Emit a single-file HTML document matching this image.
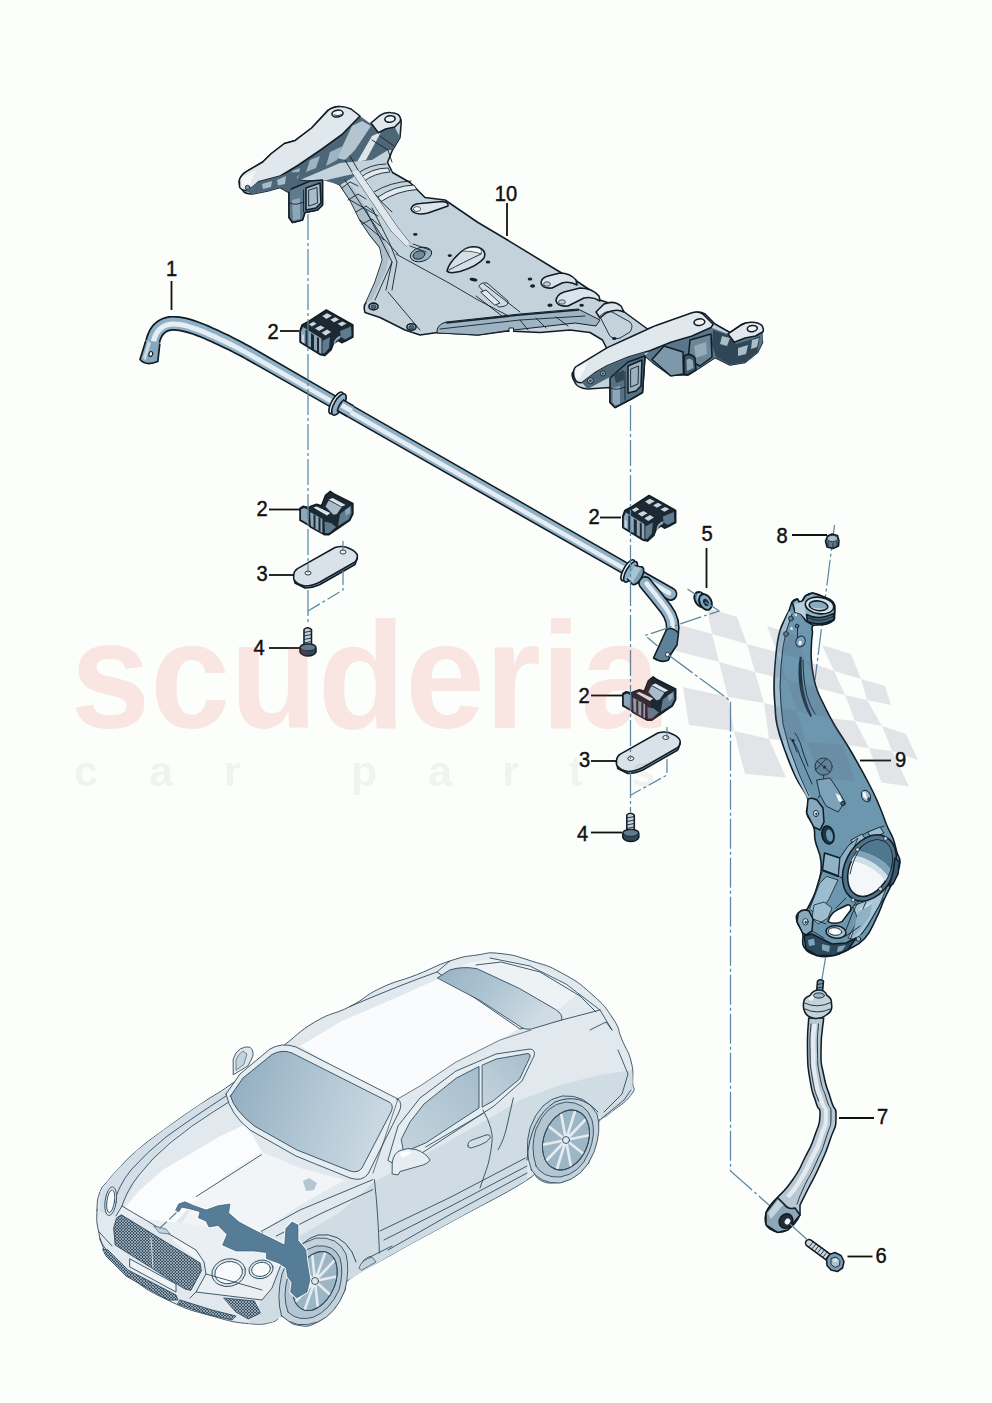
<!DOCTYPE html>
<html><head><meta charset="utf-8"><title>Stabilizer diagram</title>
<style>
html,body{margin:0;padding:0;background:#fcfefb;}
body{width:992px;height:1403px;overflow:hidden;font-family:"Liberation Sans",sans-serif;}
svg{display:block}
.lb{font-family:"Liberation Sans",sans-serif;font-size:21.2px;fill:#111;}
.ld{stroke:#111;stroke-width:1.8;fill:none}
.cl{stroke:#5a88a2;stroke-width:1.25;fill:none;stroke-dasharray:26 3 3 3}
.o{stroke:#111d26;stroke-width:1.55;stroke-linejoin:round;stroke-linecap:round}
.t{stroke:#14222c;stroke-width:0.9;stroke-linejoin:round;stroke-linecap:round}
</style></head><body>
<svg width="992" height="1403" viewBox="0 0 992 1403">
<rect x="0" y="0" width="992" height="1403" fill="#fcfefb"/>

<!-- center lines under parts -->
<g class="cl">
<path d="M834.5 525L815 680"/>
<path d="M825.5 958L822 979" stroke-dasharray="none"/>
</g>

<!-- subframe (10) -->
<g id="subframe">
 <!-- silhouette -->
 <path class="o" fill="#c4d2dc" d="M328 110.400Q337.5 103.500 347.5 109L355 117.5L370 125L377.5 119Q387 113 397.5 115Q402 118 401 125L400 137.5L392.5 150L387.5 162.5L392.5 172.5L410 182.5L425 197.5L445 200L478 222.5L507.5 240L552.5 267.5L565 275L575 280L590 290L600 300L615 305L625 312.5L647.5 329L695 312.5Q700 311 705 314L715 324L730 332.5L742.5 324Q752 320.500 761 327.5L762.5 342.5L757.5 352.5L745 362.5L730 365L715 357.5L700 367.5L687.5 375L670 375L652.5 362.500L645 356L642.5 392.5L627.5 401L615 407.5L610 402.500L610 387.5L587.5 389Q577 388 575 382.5Q571 376 572.5 372.500L585 362.500L605 352.5L607.5 350L602.5 340L590 332.5L570 330L540 332.5L507.5 331L478 335L437.5 332.5L420 335L405 330L380 317.5L365 312.5Q363 306 366 302.500L375 282.5L382.5 260L380 247.5L370 235L360 220L350 200L340 185L330 180L322.5 180L322.5 205L317.5 210L305 212.5L302.5 220L292.5 222.5L289 217.5L289 192.5L280 187.5L267.5 191L252.5 194Q244 194 242.500 190Q238 184 239.500 179.800Q241 175 246.300 171.700L262.700 162L270.800 154L284.400 143.500L295.300 140.400L311.600 128L328 110.400Z"/>
</g>
<g id="sf-left">
 <!-- dark web region under left bracket top face -->
 <path fill="#4d6778" d="M360 116L342 134.5L322 149L298.500 165L280.400 176L258.600 181.700L253 187L246 190.700L252.500 194L267.500 191L280 187.500L289 192.500L322.500 180L340 185L352 178L372 160L388 150L392.500 150L400 137.500L394.700 127L385.600 129L378.400 132.700L371 124Z"/>
 <!-- lighter struts inside web -->
 <path fill="#b4c5d0" d="M352 126L362 121L371 126L355 150L345 160L337 158Z"/>
 <path fill="#9fb4c2" d="M330 152L343 146L337 160L326 166Z M310 160L320 156L316 168L306 172Z M292 171L300 168L298 178L290 181Z"/>
 <path fill="#dbe5eb" d="M372 136L381 132L366 160L357 162Z"/>
 <path fill="#c4d2dc" d="M300 180L340 163L372 160L392 172L372 170L344 176L322.500 181Z"/>
 <!-- top face -->
 <path class="o" fill="#e0e8ed" d="M239.500 179.800Q241 175 246.300 171.700L262.700 162L270.800 154L284.400 143.500L295.300 140.400L311.600 128L328 110.400Q338 103.500 351 109L360 116L342 134.500L322 149L298.500 165L280.400 176L258.600 181.700L253 187L246 190.700Q241 190 239.500 187Z"/>
 <path fill="#f3f6f8" d="M240.500 180Q243 175.500 249 174L256 170L250 184L244 188Q241 186 240.500 180Z"/>
 <ellipse class="o" cx="337.5" cy="113.6" rx="5.6" ry="3.4" fill="#f2f5f7" transform="rotate(-8 337.5 113.6)"/>
 <path class="t" fill="none" d="M334 115Q338 117 342 114.500"/>
 <!-- second ear top face -->
 <path class="o" fill="#e0e8ed" d="M371 123L380 115.400Q385 112 391 112.700Q397 113 399 115.400Q401.500 119 400 121.800L394.700 127L385.600 129L378.400 132.700Z"/>
 <ellipse class="o" cx="390" cy="119" rx="5.200" ry="3.200" fill="#f2f5f7" transform="rotate(-8 390 119)"/>
 <!-- mount post -->
 <path class="o" fill="#5f7b8e" d="M289 190L289 217.500L292.500 222.500L302.500 220L305 212.500L317.500 210L322.500 205L322.500 180L310 181Z"/>
 <path fill="#8ea6b6" d="M292 200L300 198L300 219L293 220.500Z"/>
 <path class="o" fill="#a9bcc9" d="M306 188L320 183L321 203L316 208L306 210Z"/>
 <path class="t" fill="none" d="M309 190L317 187.500L317.500 203L309 206Z"/>
 <path class="t" fill="none" d="M289.500 203Q296 206 303.500 202M303.500 190V212"/>
 <!-- holes on left tip -->
 <circle class="t" cx="247.500" cy="187.500" r="2.200" fill="#7d97a8"/>
 <circle class="t" cx="258" cy="185.500" r="1.600" fill="#7d97a8"/>
 <path class="t" fill="none" d="M262 183L272 180.500M276 178L286 173M300 180L310 181"/>
</g>
<g id="sf-body">
 <!-- left tip side strip -->
 <path fill="#4d6778" d="M246 190.700L258.600 181.700L280.400 176L289.400 172.600L300 172L289 192L280 187.500L267.500 191L252.500 194Z"/>
 <path fill="#a9bcc9" d="M262 184L272 181L271 187L263 189Z M277 180L286 176L285 184L278 185.500Z"/>
 <!-- shaded left flank of body -->
 <path fill="#aebfcb" d="M340 185L350 200L360 220L370 235L380 247.500L382.500 260L375 282.500L366 302.500L372 300L386 270L390 252L380 232L366 208L352 186Z"/>
 <!-- light ribs at neck -->
 <path fill="#e3eaef" stroke="#14222c" stroke-width="0.900" d="M360 178Q372 168 388 168L390 172Q374 173 363 182Z M378 197Q394 186 414 185L417 189.500Q397 191 381 201.500Z"/>
 <path class="t" fill="none" d="M357 174Q370 164 386 164M374 192Q390 182 411 181M366 186L378 197M381 201.500L392 212"/>
 <path class="t" fill="none" stroke="#3f596b" d="M342 188L350 182L358 186M348 200L358 194L366 199M356 212L366 206L374 212M362 224L372 219L380 226M345 160L352 172M350 156L358 170M372 140L388 150L392 162M380 136L394 146"/>
 
 <!-- long rib along beam -->
 <path class="t" fill="none" d="M352 172L392 232L406 246M358 170L398 228L410 243M345 180L383 238L398 254"/>
 <path fill="#dfe7ec" d="M358 170L398 228L410 243L406 246L392 232L352 172Z"/>
 <path class="t" fill="none" stroke="#3f596b" d="M366 210L384 246L392 262L386 290M372 208L390 244L397 262L392 290M350 200L378 216M360 220L384 240"/>
 <!-- panel line -->
 <path class="t" fill="none" d="M396 254L449 283L478 300L520 322M388 292L420 330M392 262L375 300"/>
 <!-- slot 1 -->
 <path class="o" fill="#dbe4ea" d="M411 209Q412 204 420 203.500L442 201.500Q449 202 448 206L428 213Q414 216 411 209Z"/>
 <ellipse cx="417" cy="209" rx="3.600" ry="2.400" fill="#fafcfd" stroke="#14222c" stroke-width="0.700"/>
 <!-- round feature -->
 <ellipse class="t" cx="421" cy="254.500" rx="11" ry="7" fill="#9fb4c2" transform="rotate(-15 421 254.500)"/>
 <ellipse class="t" cx="419" cy="255" rx="6" ry="4" fill="#6f8a9c" transform="rotate(-15 419 255)"/>
 <path class="t" fill="none" d="M410 246L426 252M413 244L430 250"/>
 <!-- teardrop -->
 <path class="o" fill="#d4dfe6" d="M447 271Q449 262 462 251Q470 245 479 247.500Q487 251 484 258Q478 266 460 271.500Q449 274 447 271Z"/>
 <path fill="#f6f9fa" stroke="#14222c" stroke-width="0.700" d="M462 251Q470 245.500 479 248Q483 250 481 254Q474 251 462 251Z"/>
 <path class="t" fill="none" d="M449 270Q462 263 481 254"/>
 <!-- dots -->
 <g fill="#14222c">
  <ellipse cx="415.300" cy="234.400" rx="2.200" ry="1.300"/><ellipse cx="449.800" cy="255.600" rx="2.200" ry="1.400"/>
  <ellipse cx="488" cy="262" rx="2.300" ry="1.500"/><ellipse cx="473.500" cy="279.600" rx="4" ry="1.700" transform="rotate(12 473.500 279.600)"/>
  <ellipse cx="530" cy="279" rx="2.300" ry="1.500"/><ellipse cx="532.600" cy="286" rx="2.500" ry="1.700"/>
  <ellipse cx="550" cy="305.300" rx="2.600" ry="1.700"/><ellipse cx="581.600" cy="305.300" rx="2.300" ry="1.500"/>
  <ellipse cx="614.300" cy="338.500" rx="2.300" ry="1.500"/>
 </g>
 <!-- rect slot -->
 <path class="t" fill="#cfdbe3" d="M479 286Q481 282 487 283L508 301Q509 305 503 306.500L499 307Z"/>
 <path class="t" fill="#e1e9ee" d="M481 292L486 290L500 303L495 305Z"/>
 <path class="t" fill="none" d="M476 296L502 316M484 284L520 312"/>
 <!-- bumps on top edge -->
 <path class="o" fill="#dbe4ea" d="M541 283Q541 278 548 276L560 273Q570 273 576 280L577 285Q570 281 562 283L552 288Q543 289 541 283Z"/>
 <path class="o" fill="#dbe4ea" d="M556 301Q556 295 564 292L580 288Q592 288 599 296L600 301Q592 296 584 298L568 306Q558 307 556 301Z"/>
 <path class="o" fill="#dbe4ea" d="M596 312L604 304Q614 300 621 306L624 312Q616 308 606 313L600 318Z"/>
 <ellipse cx="547" cy="284" rx="3.400" ry="2.200" fill="#c0cfd9" stroke="#14222c" stroke-width="0.700"/>
 <ellipse cx="562" cy="302" rx="3.400" ry="2.200" fill="#c0cfd9" stroke="#14222c" stroke-width="0.700"/>
 <!-- rounded rect on right -->
 <path class="t" fill="none" d="M600 316Q606 310 612 312L630 322Q634 326 630 332L620 338Q614 340 610 336Z"/>
 <!-- diagonal brace -->
 <path fill="#9fb4c2" stroke="#14222c" stroke-width="1" d="M437 333Q436 325 446 322L520 314L578 309L600 320L596 326L575 323L540 327L505 331L478 335Z"/>
 <path stroke="#14222c" stroke-width="1.600" fill="none" d="M446 323L520 315L579 310"/>
 <path class="t" fill="none" d="M440 329L520 320L585 316M520 320L528 330M536 318L546 328M556 317L568 326"/>
 <!-- notch -->
 <path d="M509 332V328H513.500V332" fill="#fcfefb" stroke="#14222c" stroke-width="1"/>
 <!-- corner bolts -->
 <ellipse class="o" cx="373.500" cy="306.500" rx="4.600" ry="3.400" fill="#aebfcb"/>
 <ellipse cx="373.500" cy="306.800" rx="2.600" ry="1.900" fill="#4d6778" stroke="#14222c" stroke-width="0.700"/>
 <ellipse class="o" cx="411.500" cy="327" rx="4.600" ry="3.200" fill="#aebfcb"/>
 <ellipse cx="411.500" cy="327.300" rx="2.600" ry="1.800" fill="#4d6778" stroke="#14222c" stroke-width="0.700"/>
</g>
<g id="sf-right">
 <!-- dark underside region -->
 <path fill="#5a7689" d="M649.700 350.800L670.800 342.300L692 336L711 327.500L728 334L734.300 342.300L745 338L755.500 336L763 331.800L762.500 342.500L757.500 352.500L745 362.500L730 365L715 357.500L700 367.500L687.500 375L670 375L652.500 362.500L645 356Z"/>
 <path fill="#2f4656" d="M713 330L728 335L736 344L750 340L760 336L757.500 352L745 362L730 364.500L716 357L712 345Z"/>
 <path fill="#a9bcc9" d="M722 336L730 338L727 346L720 344Z M738 348L748 345L746 354L738 356Z M752 340L759 338L757 347L751 349Z"/>
 <path class="o" fill="#7d98aa" d="M652 359.500L670.800 376L683.500 374L683 352L664 346Z"/>
 <path class="o" fill="#6a8698" d="M690 340L711 334L712 357L700 366L688 360Z"/>
 <path fill="#93abb9" d="M694 346L706 342L707 354L696 358Z"/>
 <path class="o" fill="#3d5566" d="M684 356Q690 352 695 358L696 370L688 375L684 374Z"/>
 <path fill="#8ea6b6" d="M686.500 360Q690 357 693 361L693.500 368L687 371Z"/>
 <!-- top face -->
 <path class="o" fill="#e0e8ed" d="M573.500 372Q574 367 577.700 365.600L607.300 347.600L634.900 335L656 325.400L692 312.700Q698 311 702.600 313.800L713.200 324.300L711 327.500L692 336L670.800 342.300L649.700 350.800L628.500 357L607.300 365.600L594.600 373L582 382.600Q577 383 575.600 380.400Q573 377 573.500 372Z"/>
 <path fill="#f5f8fa" d="M575 372Q576 368 580 366L588 362L580 378L577 380Q574.500 377 575 372Z"/>
 <ellipse class="o" cx="699.400" cy="322.200" rx="5.400" ry="3.300" fill="#f2f5f7" transform="rotate(-8 699.400 322.200)"/>
 <!-- second ear -->
 <path class="o" fill="#e0e8ed" d="M728 333.900L740.700 325.400Q746 322 751.300 322.200Q758 322 761.900 325.400Q764 329 763 331.800L755.500 336L745 338L734.300 342.300Z"/>
 <ellipse class="o" cx="752.300" cy="328.600" rx="5" ry="3.100" fill="#f2f5f7" transform="rotate(-8 752.300 328.600)"/>
 <!-- tip side strip with holes -->
 <path fill="#4d6778" d="M582 382.600L594.600 373L607.300 365.600L628.500 357L645 352L645 358L612 376L587.500 389Z"/>
 <circle cx="590.400" cy="380.600" r="3" fill="#8ea6b6" stroke="#14222c" stroke-width="0.900"/>
 <circle cx="590.400" cy="380.800" r="1.300" fill="#2f4656"/>
 <circle cx="603" cy="373.400" r="2.600" fill="#8ea6b6" stroke="#14222c" stroke-width="0.900"/>
 <circle cx="603" cy="373.600" r="1.100" fill="#2f4656"/>
 <!-- mount post -->
 <path class="o" fill="#567285" d="M610 378L610 402.500L615 407.500L627.500 401L630.600 399.500L642.500 392.500L645 356L628 362Z"/>
 <path fill="#8ea6b6" d="M612.500 388L620 386L620 404L615 405.500L612.500 402Z"/>
 <path class="o" fill="#9db2c1" d="M628 366L642 360L641 386L636 391L628 393Z"/>
 <path class="t" fill="none" d="M631 369L638.500 366L638 384L631 387Z"/>
 <path class="t" fill="none" d="M610.500 388Q616 391 625 387M625 372V400"/>
 <path fill="#2f4656" d="M614 374L624 370L624 380L616 383Z"/>
</g>

<!-- stabilizer bar (1) -->
<g id="bar" fill="none" stroke-linecap="butt" stroke-linejoin="round">
 <!-- upper stub at right end -->
 <path d="M630 571L670.5 594" stroke="#0f1a22" stroke-width="13.8" stroke-linecap="round"/>
 <path d="M630 571L670.5 594" stroke="#8fb0c5" stroke-width="10.6" stroke-linecap="round"/>
 <path d="M642 577.5L669 593" stroke="#e6eef3" stroke-width="4.6" stroke-linecap="round"/>
 <!-- main bar -->
<path d="M157.1 361.3L160.0 344.4L160.5 342.1L161.0 340.2L161.7 338.5L162.4 337.0L163.2 335.7L164.0 334.7L164.9 333.8L165.9 333.0L167.0 332.3L168.2 331.7L169.6 331.3L170.9 330.9L173.3 330.8L176.1 330.9L179.1 331.3L182.3 331.9L185.6 332.7L189.1 333.7L192.7 334.8L196.3 336.2L199.9 337.6L203.6 339.1L207.3 340.7L210.9 342.3L214.4 344.0L217.9 345.6L220.8 346.9L223.5 348.2L226.1 349.4L228.5 350.6L230.8 351.7L232.9 352.8L235.0 353.9L237.1 355.0L239.0 356.0L240.9 357.1L242.8 358.1L244.7 359.1L246.6 360.2L248.5 361.2L333.7 409.5L632.8 580.1L639.2 568.9L340.3 397.9L255.5 348.8L253.5 347.7L251.6 346.6L249.7 345.6L247.8 344.5L245.8 343.4L243.8 342.3L241.7 341.2L239.5 340.1L237.3 338.9L234.9 337.7L232.4 336.4L229.8 335.1L227.0 333.8L224.1 332.4L220.6 330.8L217.0 329.1L213.2 327.4L209.4 325.6L205.5 324.0L201.6 322.4L197.6 320.9L193.5 319.5L189.5 318.3L185.4 317.3L181.4 316.6L177.3 316.0L173.3 315.9L169.1 316.1L165.7 316.8L162.7 317.7L160.0 319.0L157.3 320.6L154.9 322.4L152.7 324.6L150.8 327.0L149.2 329.6L147.8 332.4L146.6 335.3L145.7 338.4L145.0 341.6L141.9 358.7Z" fill="#0f1a22"/>
<path d="M155.3 361.0L158.3 344.0L158.8 341.7L159.4 339.6L160.1 337.8L160.9 336.1L161.7 334.7L162.7 333.5L163.8 332.5L164.9 331.6L166.2 330.8L167.6 330.1L169.2 329.6L170.7 329.2L173.3 329.1L176.2 329.2L179.4 329.6L182.7 330.2L186.1 331.0L189.6 332.1L193.2 333.2L196.9 334.6L200.6 336.0L204.3 337.6L207.9 339.2L211.6 340.8L215.1 342.5L218.6 344.1L221.5 345.4L224.2 346.7L226.8 347.9L229.2 349.1L231.5 350.3L233.7 351.4L235.8 352.5L237.8 353.5L239.8 354.6L241.7 355.6L243.6 356.6L245.5 357.7L247.4 358.7L249.3 359.8L334.4 408.2L633.6 578.8L638.4 570.2L339.6 399.2L254.7 350.2L252.7 349.1L250.8 348.1L248.9 347.0L247.0 345.9L245.0 344.9L243.0 343.8L240.9 342.7L238.8 341.5L236.5 340.4L234.2 339.2L231.7 337.9L229.1 336.6L226.3 335.3L223.4 333.9L219.9 332.3L216.3 330.6L212.6 328.9L208.8 327.2L204.9 325.6L201.0 324.0L197.0 322.5L193.0 321.2L189.1 320.0L185.1 319.0L181.1 318.2L177.2 317.8L173.3 317.6L169.3 317.8L166.1 318.4L163.4 319.3L160.8 320.5L158.3 322.0L156.1 323.7L154.0 325.7L152.2 328.0L150.7 330.4L149.4 333.1L148.3 335.9L147.4 338.8L146.7 342.0L143.7 359.0Z" fill="#8fb0c5"/>
<path d="M155.7 343.6L156.3 341.1L156.9 338.8L157.7 336.7L158.6 334.9L159.7 333.2L160.8 331.8L162.1 330.6L163.5 329.5L165.0 328.5L166.7 327.8L168.5 327.2L170.4 326.7L173.3 326.6L176.4 326.7L179.7 327.1L183.2 327.8L186.7 328.6L190.4 329.7L194.1 330.9L197.8 332.3L201.5 333.8L205.3 335.3L208.9 336.9L212.6 338.6L216.2 340.2L219.7 341.9L222.6 343.2L225.3 344.5L227.9 345.8L230.3 347.0L232.6 348.1L234.8 349.2L236.9 350.3L239.0 351.4L240.9 352.5L242.9 353.5L244.8 354.6L246.7 355.6L248.6 356.7L250.4 357.7L335.5 406.3L634.6 577.0L636.7 573.2L337.8 402.3L252.9 353.5L250.9 352.4L249.0 351.4L247.1 350.3L245.2 349.3L243.2 348.2L241.2 347.1L239.2 346.0L237.0 344.9L234.8 343.8L232.5 342.6L230.0 341.3L227.4 340.1L224.7 338.8L221.8 337.4L218.3 335.8L214.7 334.1L211.0 332.4L207.2 330.7L203.4 329.1L199.6 327.6L195.7 326.2L191.9 324.9L188.0 323.7L184.3 322.8L180.5 322.1L176.9 321.7L173.3 321.5L169.8 321.7L167.2 322.2L164.8 323.0L162.6 324.0L160.6 325.2L158.7 326.7L157.0 328.4L155.5 330.3L154.1 332.4L153.0 334.6L152.0 337.1L151.2 339.8L150.6 342.7Z" fill="#e6eef3"/>
 <!-- left flattened eye -->
 <path d="M146.200 340L159.600 342.500L157.800 361.500Q146 366.500 140 359.500Z" fill="#86a8be" stroke="none"/>
 <path d="M145.600 341.500L140 359.500Q146 366.500 157.800 361.500L159.800 344" fill="none" stroke="#0f1a22" stroke-width="1.700"/>
 <path d="M148 341L143 358L145.500 360.500L151 343Z" fill="#c9dae5" stroke="none"/>
 <ellipse cx="150.800" cy="354" rx="1.800" ry="2.500" fill="#f4f8fa" stroke="#0f1a22" stroke-width="1.100" transform="rotate(20 150.800 354)"/>
 <!-- lower arm at right end -->
 <path d="M645 583Q656 596 666 609Q675 621 672 634" stroke="#0f1a22" stroke-width="13.800" stroke-linecap="round"/>
 <path d="M645 583Q656 596 666 609Q675 621 672 634" stroke="#8fb0c5" stroke-width="10.600" stroke-linecap="round"/>
 <path d="M646.500 583.500Q657.500 596.500 666.700 609.500Q674 620 672.500 628" stroke="#e6eef3" stroke-width="4.400" stroke-linecap="round"/>
 <path d="M666.500 629.500Q672 626.500 678.500 633L677 645L671 654L668.500 660Q662 663.500 653.500 658Z" fill="#5d8199" stroke="#0f1a22" stroke-width="1.600"/>
 <circle cx="667.500" cy="654.500" r="2.100" fill="#f4f7f9" stroke="#0f1a22" stroke-width="0.800"/>
 <!-- collar 1 -->
 <g transform="translate(338.400 404.200) rotate(29.800)">
  <ellipse cx="-2.600" cy="0" rx="4.600" ry="12.200" fill="#e6eef3" stroke="#0f1a22" stroke-width="1.600"/>
  <ellipse cx="0.600" cy="0" rx="4.800" ry="12" fill="#8fb0c5" stroke="#0f1a22" stroke-width="1.600"/>
  <path d="M2.500 0H14" stroke="#0f1a22" stroke-width="13.800"/>
  <path d="M2.500 0H15" stroke="#8fb0c5" stroke-width="10.600"/>
  <path d="M3.500 -0.700H15" stroke="#e6eef3" stroke-width="4.800"/>
  <path d="M2.500 -6.900Q0 0 2.500 6.900" stroke="#0f1a22" stroke-width="1.400" fill="none"/>
 </g>
 <!-- collar 2 -->
 <g transform="translate(630 571.500) rotate(29.800)">
  <ellipse cx="-2.600" cy="0" rx="4.200" ry="11.800" fill="#e6eef3" stroke="#0f1a22" stroke-width="1.600"/>
  <ellipse cx="0.600" cy="0" rx="4.400" ry="11.600" fill="#8fb0c5" stroke="#0f1a22" stroke-width="1.600"/>
  <ellipse cx="8.500" cy="0" rx="4.600" ry="10" fill="#7b9db3" stroke="#0f1a22" stroke-width="1.600"/>
  <path d="M1 -7.500L8.500 -9.800M1 7.500L8.500 9.800" stroke="#0f1a22" stroke-width="1.300"/>
  <path d="M1.500 -7L8 -9L8 9L1.500 7Z" fill="#a9c3d2" stroke="none"/>
 </g>
</g>

<!-- knuckle (9) -->
<g id="knuckle">
 <path class="o" stroke-width="1.6" fill="#6d97ae" d="M792.2 602.0C794.1 599.4 795.6 599.0 797.3 599.0C799.0 599.0 798.1 601.5 799.3 602.0C800.5 602.5 800.9 602.4 802.3 601.0C803.7 599.6 802.9 597.9 805.3 596.0C807.7 594.1 808.6 593.0 812.4 593.0C816.2 593.0 817.3 594.4 821.5 596.0C825.7 597.6 827.5 597.9 830.5 600.0C833.5 602.1 833.6 601.5 834.5 605.0C835.4 608.5 834.7 611.4 834.5 615.0C834.3 618.6 835.6 618.1 833.5 620.3C831.4 622.5 830.2 623.1 825.5 624.3C820.8 625.5 816.5 623.2 813.4 625.3C810.3 627.4 812.9 628.7 812.4 633.4C811.9 638.1 811.6 639.2 811.4 645.5C811.2 651.8 810.9 653.6 811.4 660.6C811.9 667.6 812.0 668.7 813.4 675.7C814.8 682.7 814.8 683.7 817.4 690.8C820.0 697.9 820.5 698.0 824.5 706.0C828.5 714.0 828.8 715.2 834.5 725.0C840.2 734.8 841.0 734.4 849.0 748.0C857.0 761.6 861.6 769.6 868.8 783.5C876.0 797.4 875.8 797.6 880.0 807.5C884.2 817.4 884.0 818.6 887.0 825.8C890.0 833.0 890.7 832.1 893.0 838.3C895.3 844.5 895.4 846.9 897.0 852.5C898.6 858.1 900.2 856.8 900.0 862.3C899.8 867.8 898.3 870.1 896.0 876.0C893.7 881.9 892.7 882.3 890.0 887.7C887.3 893.1 887.7 891.7 884.4 899.0C881.1 906.3 880.6 909.6 876.0 918.8C871.4 928.0 871.3 931.3 864.7 938.5C858.1 945.7 855.0 945.8 847.7 949.8C840.4 953.8 840.8 954.2 833.6 955.5C826.4 956.8 823.6 957.5 816.7 955.5C809.8 953.5 807.3 952.2 804.0 947.0C800.7 941.8 804.2 938.9 802.6 933.0C801.0 927.1 798.0 926.3 797.0 921.6C796.0 916.9 795.7 916.3 798.3 913.0C800.9 909.7 803.6 914.4 808.2 907.5C812.8 900.6 815.0 894.1 818.0 883.5C821.0 872.9 821.6 871.9 821.0 862.0C820.4 852.1 817.0 849.2 815.3 841.0C813.6 832.8 815.7 833.5 813.7 827.0C811.7 820.5 808.0 819.5 806.7 813.0C805.4 806.5 810.6 807.5 808.0 799.0C805.4 790.5 801.0 788.3 795.4 776.4C789.8 764.5 788.3 760.0 784.0 748.0C779.7 736.0 779.1 734.8 777.0 725.0C774.9 715.2 775.7 715.1 775.0 706.0C774.3 696.9 774.0 695.2 774.0 685.8C774.0 676.4 774.3 675.0 775.0 665.6C775.7 656.2 775.8 653.7 777.0 645.5C778.2 637.3 778.1 636.7 780.0 630.4C781.9 624.1 783.1 623.0 785.2 618.3C787.3 613.6 787.6 614.0 789.2 610.2C790.8 606.4 790.3 604.6 792.2 602.0Z"/>
 <!-- white opening -->
 <path class="o" fill="#fcfefb" d="M828 921.600Q830 914 836.400 910.300L847.700 904.700Q852 905 850.600 910.300L842 921.600Q834 925 828 921.600Z"/>
 <!-- left rim highlight -->
 <path fill="#9fbfd1" d="M789 611L780.800 631L777.800 646L775.800 666L775 686L776 706L778 725L785 748L796 776L808 799L811 797L799 774L789 747L783 724L781 705L780 686L781 666L783 647L786 632L792 614Z"/>
 <path class="t" fill="none" stroke-width="1.1" d="M792 614L786 632L783 647L781 666L780 686L781 705L783 724L789 747L799 774L809 796"/>
 <!-- long dark rib -->
 <path fill="#1f3543" d="M799.800 656.600Q797 672 800 690Q803 705 810.400 717L812 716Q806 703 803.500 689Q801 672 801.800 657Z"/>
 <path class="t" fill="none" stroke="#2c485a" d="M803 660Q803 680 807 696Q810 706 815 714"/>
 <!-- top clamp ring -->
 <path class="o" fill="#8fb0c4" d="M792.200 602L797.300 599L799.300 602L802.300 601L805.300 596L812.400 593L821.500 596L830.500 600L834.500 605L834.500 615L833.500 620.300L825.500 624.300L813.400 625.300L806 621L801 614L795 612Z"/>
 <path fill="#b9cfdb" d="M795 604L805 601L806 619L801 614L795 612Z"/>
 <ellipse class="o" cx="819.500" cy="605.500" rx="14.300" ry="8.200" fill="#d6e3ea" transform="rotate(8 819.500 605.500)"/>
 <ellipse class="o" cx="818.500" cy="605.800" rx="9.400" ry="4.800" fill="#8aabbf" transform="rotate(8 818.500 605.800)"/>
 <path fill="#c5d7e1" d="M810 607Q818 612 828 607.500Q820 609.500 810 607Z"/>
 <path class="o" fill="#456579" d="M806.500 614.500Q818 621 833.500 613.500L834 619.500Q820 627 807.500 621.500Z"/>
 <path class="t" fill="none" d="M808 618Q820 623.500 833 616.500"/>
 <!-- small bolts top-left -->
 <g class="t" fill="#5d8197">
  <circle cx="791" cy="618.500" r="2.400"/><circle cx="786" cy="634" r="2.400"/><circle cx="797" cy="626" r="1.800"/>
 </g>
 <path fill="#e8f0f4" d="M789.500 629L792 626.500L793 630Z M794 615L796.500 613L797 616.500Z"/>
 <path class="t" fill="none" d="M797.500 628V638"/>
 <ellipse class="t" cx="800.500" cy="641.500" rx="4.600" ry="5.600" fill="#7fa3b8" transform="rotate(25 800.500 641.500)"/>
 <ellipse cx="800" cy="643" rx="1.600" ry="2.200" fill="#f4f8fa" transform="rotate(25 800 643)"/>
 <!-- mid section details -->
 <path class="t" fill="none" stroke-width="1.100" d="M790 738Q797 745 800 756L806 770L812 784"/>
 <path class="t" fill="none" d="M795 733Q800 740 803 752L808 766M793 742L797 752"/>
 <circle cx="793" cy="740.500" r="1.500" fill="#14222c"/>
 <circle class="t" cx="823.600" cy="766.600" r="8.600" fill="#5f889f"/>
 <circle cx="824.500" cy="767" r="1.500" fill="#14222c"/>
 <path class="t" fill="none" d="M817 761L830 772M815.500 770L826 759M823.600 775V790L818 798"/>
 <path class="t" fill="#7ba2b8" d="M817 780L830 778L838 790L845 802L838 812L826 806L820 795Z"/>
 <path fill="#f1f6f8" d="M835.500 793L840 795.500L843 803L838.500 801Z"/>
 <circle class="t" cx="843" cy="803.500" r="2.200" fill="#3b5a6d"/>
 <ellipse class="t" cx="866" cy="796" rx="4.300" ry="6" fill="#9dbccd" transform="rotate(-25 866 796)"/>
 <path fill="#f4f8fa" d="M862.500 791.500L866 793L867 799.500L863.500 797Z"/>
 <ellipse cx="869" cy="799.500" rx="1.700" ry="2.300" fill="#2c485a"/>
 <!-- left lug -->
 <path class="o" fill="#86a9be" d="M808 799Q812 797 817 800L823 808L824 822L820 830L813.700 827L806.700 813Z"/>
 <ellipse class="t" cx="816" cy="813.500" rx="2.600" ry="3.200" fill="#d5e3eb"/>
 <ellipse cx="816.300" cy="814" rx="1.100" ry="1.500" fill="#2c485a"/>
 <!-- dark bushing hole -->
 <ellipse class="o" cx="828" cy="835" rx="6" ry="9.200" fill="#1f3543" transform="rotate(-12 828 835)"/>
 <ellipse cx="829.500" cy="835.500" rx="3.300" ry="6.200" fill="#6d97ae" transform="rotate(-12 829.500 835.500)"/>
 <!-- rect panel -->
 <path class="o" fill="#8fb2c7" d="M824.500 853L840 858L838.500 876L822.500 870Z"/>
 <path stroke="#14222c" stroke-width="1.800" fill="none" d="M822.500 870.500L838.500 876.500"/>
 <!-- struts around hub -->
 <path class="t" fill="none" d="M840 858L848 846L856 838L868 832L884 826M838.500 876L846 880L850 896M822 872L815 893L808 907M830 880L822 900L814 912M846 898L836 908M856 902L850 912"/>
 <path fill="#9dbccd" d="M851 840L862 834L866 840L856 846Z M868 832L880 827L884 833L872 838Z"/>
 <path class="t" fill="none" d="M851 840L862 834L866 840L856 846Z M868 832L880 827L884 833L872 838Z"/>

 <!-- lighter struts lower -->
 <path fill="#9cbdce" stroke="#14222c" stroke-width="0.800" d="M809.600 909L819.500 883.500L826.600 876.400L838 880L829 899L818 916Z"/>
 <path fill="#a9c7d6" stroke="#14222c" stroke-width="0.800" d="M853 906L866 901L880 893L888 884L880 904L868 926L856 940L848 938L858 920Z"/>
 <path fill="#c4d9e4" stroke="none" d="M860 908L872 902L866 918L858 930Z"/>
 <path fill="#9cbdce" stroke="#14222c" stroke-width="0.800" d="M814 905L824 902L832 908L828 918L818 924L812 918Z"/>
 <path fill="#8fb2c7" stroke="#14222c" stroke-width="0.800" d="M840 858L848 846L858 838L848 862L846 880L838.500 876Z"/>
 <!-- hub ring -->
 <g transform="translate(869.500 868) rotate(27)">
  <ellipse class="o" stroke-width="1.500" cx="0" cy="0" rx="24.500" ry="35" fill="#4f7388"/>
  <ellipse class="o" cx="0.500" cy="0" rx="19.800" ry="30" fill="#f3f7f9"/>
  <path fill="#4f7890" d="M-18.500 -10Q-12 -30 0.500 -30Q14 -30 19.500 -8Q6 -16 -18.500 -10Z"/>
  <path fill="#7fa4b9" d="M-18.500 -10Q6 -16 19.500 -8Q20 -4 20.200 -1Q0 -10 -19.300 -4Z"/>
  <path fill="#cfdfe8" d="M-19.300 -4Q0 -10 20.200 -1L20 4Q0 -5 -19.600 2Z"/>
 </g>
 <path class="t" fill="none" stroke-width="1" d="M850 874Q853 858 862 846"/>
 <g fill="#c9dbe5" stroke="#14222c" stroke-width="0.800">
  <circle cx="885.500" cy="838.500" r="1.900"/><circle cx="857.500" cy="849.500" r="1.900"/><circle cx="853" cy="900" r="1.900"/><circle cx="880.500" cy="889" r="1.900"/>
 </g>
 <!-- right flange bumps -->
 <path class="o" fill="#3b5a6d" d="M895 858L899.500 862L898 874L893 884L889 886L893 872Z"/>
 <!-- lower section -->
 <path class="t" fill="none" stroke-width="1" d="M859 900L852 914L846 930M866 902L858 920L850 940M884 898L872 918L862 934"/>
 <path fill="#8fb2c7" d="M858 912L872 904L870 916L860 930L852 938Z"/>
 <path class="o" fill="#86a9be" d="M798.300 913Q803 908 809 911L813 919L812 931L806 935L802.600 933L797 921.600Z"/>
 <ellipse class="t" cx="805.400" cy="921.800" rx="2.700" ry="3.300" fill="#d5e3eb"/>
 <ellipse cx="805.700" cy="922.300" rx="1.100" ry="1.500" fill="#2c485a"/>
 <ellipse class="o" cx="836" cy="932" rx="10" ry="6.200" fill="#a9c3d1" transform="rotate(6 836 932)"/>
 <ellipse class="t" cx="835" cy="931.500" rx="6.800" ry="3.800" fill="#e9f0f4" transform="rotate(6 835 931.500)"/>
 <path fill="#ffffff" d="M832 929.500H838V934H832Z"/>
 <path class="o" fill="#2c485a" d="M804 936L812 934L824 940L832 944L846 943L856 938L848 950L834 955.500L817 955.500L806 949Z"/>
 <path fill="#7fa3b8" d="M808 940L814 938.500L815 945L809 946Z M822 944L830 946L829 952L822 950Z M838 946.500L846 945L842 951L837 952Z"/>
 <circle class="t" cx="858.500" cy="939" r="2.300" fill="#9dbccd"/>
 <path class="t" fill="none" d="M813 919L826 924M812 931L824 938M846 936L860 926"/>
</g>

<!-- bushings (2), plates (3), bolts (4) -->
<defs>
<g id="hwset">
 <!-- type A bushing (top) -->
 <g id="bushA">
  <path class="o" stroke-width="1.500" fill="#1c2932" d="M300 330.600L302 325L309.400 321L326.300 310L352.900 325L352.900 337L345.600 341L341.600 342.700L338.400 340.300L333.500 343.500L331 350L324.700 355.600L320.600 354.800L300 342Z"/>
  <path fill="#8ea6b6" d="M301 331.500L303 327L321.500 338.500L321.500 354L301 341.500Z"/>
  <path fill="#1c2932" d="M305.500 329.500V344.500L308 346V331Z M311 333V348L314 350V335Z M317 337V352L319 353V338Z"/>
  <path fill="#c9d6df" d="M302 334V342L304 343V335.500Z"/>
  <g fill="#c9d6df">
   <path d="M322.300 316.100L327.100 313.300L331.900 315.700L326.300 319Z"/><path d="M330.300 319.800L335.200 317.300L339.200 319.400L334 322.200Z"/><path d="M337.600 323.800L342.400 321.400L346.500 323.400L341.600 326.200Z"/>
   <path d="M309 324.200L313.400 321.800L316.600 323.800L311.800 326.600Z"/><path d="M315 328.200L320.600 325.400L324.700 327.800L319 331Z"/><path d="M321.500 332.700L327.100 329.400L331.100 331.900L325.500 335.500Z"/>
  </g>
  <path fill="#5f7b8e" d="M340 331L351 326.500L351.500 336L345 339.500L341 337Z M322.500 341L330 337L329 348L324.500 353.500L322.500 353Z"/>
  <path fill="#8ea6b6" d="M333.500 343.500Q335 337 341 335.500L340 338.500Q336 340 335 344Z"/>
 </g>
 <!-- type B bushing (bottom) -->
 <g id="bushB">
  <path class="o" stroke-width="1.500" fill="#1c2932" d="M300 508.200L303.300 506.200L308.500 507.400L310.200 506.600L316.600 504.200L321.500 505.800L325.500 495.300L330.300 491.300L333.500 493.700L352.900 503.400L352.900 513.900L349.700 520.300L328.700 534.800L324.700 534.800L310.200 526.800L308.500 525.200L300 520.300Z"/>
  <path fill="#8ea6b6" d="M301 509.500L304 508L308.500 510V524L301 519.500Z"/>
  <path fill="#8ea6b6" d="M310.200 512.300L322.300 518.700V533L310.800 526Z"/>
  <path fill="#1c2932" d="M313.500 514.500V527.500L315.500 528.800V515.500Z M318.500 517V531L320.500 532V518Z"/>
  <path fill="#dde6ec" d="M328.700 499.400L332.700 498.100L345.600 505L341.600 506.600Z"/>
  <path fill="#a9bcc9" d="M325.500 506.600L328.700 500.600L341.600 507.200L336.800 513.900L333.500 514.700Z"/>
  <path fill="#dde6ec" d="M313.400 507.600L316.600 506.400L330.300 513L327.100 515.500Z"/>
  <path fill="#5f7b8e" d="M340 514L351 505.500L351.500 513.500L348.500 519.500L338 526Z M324.500 521.500L331 523L336 527L329 533L325 533Z"/>
  <path fill="#8ea6b6" d="M345 510L350 507V512.500L346 516Z"/>
 </g>
 <!-- plate -->
 <g id="plate">
  <path class="o" fill="#8ea6b6" d="M293.700 577L297.500 571L335 549.500Q343 547 350 551L357.500 558L355 564.500L320 584.500Q312 588 305 588L295 583Z"/>
  <path class="o" fill="#d9e2e8" d="M293.700 575Q294 571 297.500 568.700L335 547.500Q343 545 350 548.700Q357 552 357.500 556Q357 560 355 562L320 582Q312 586 305 586Q296 584 293.700 579Z"/>
  <ellipse cx="308" cy="573" rx="3" ry="2" fill="#f4f7f9" stroke="#14222c" stroke-width="0.900"/>
  <ellipse cx="343" cy="552" rx="3" ry="2" fill="#f4f7f9" stroke="#14222c" stroke-width="0.900"/>
 </g>
 <!-- bolt 4 -->
 <g id="bolt4">
  <path class="o" fill="#c4d2dc" d="M304 629.500Q307.500 626 311.500 629.500V646H304Z"/>
  <path class="t" fill="none" d="M304 632.500L311.500 631M304 636L311.500 634.500M304 639.500L311.500 638M304 643L311.500 641.500"/>
  <path class="o" fill="#2f4656" d="M300 648Q300 644 308 644Q316 644 316 648V652Q314 656 308 656Q302 656 300 652Z"/>
  <ellipse cx="308" cy="647.500" rx="7.500" ry="3.300" fill="#5f7b8e" stroke="#14222c" stroke-width="0.800"/>
 </g>
</g>
</defs>
<use href="#hwset"/>
<use href="#hwset" transform="translate(322.800 185.500)"/>

<!-- link (7), bolt (6), nuts (5,8) -->
<g id="link">
 <!-- stud -->
 <path class="o" fill="#7d97a8" d="M817.500 981Q820.500 978.500 823.500 981L822 998H816Z"/>
 <path class="t" fill="none" d="M817.500 984.500L823 983.500M817.300 988L822.800 987M817 991.500L822.500 990.500M816.700 995L822.200 994"/>
 <!-- rod -->
 <path class="o" stroke-width="1.400" fill="#b7c8d3" d="M808.7 1018.0C808.3 1028.7 807.1 1029.3 807.5 1050.0C807.9 1070.7 807.2 1062.5 810.0 1080.0C812.8 1097.5 812.7 1090.8 816.0 1102.5C819.3 1114.2 820.3 1104.2 820.0 1115.0C819.7 1125.8 820.0 1120.8 815.0 1135.0C810.0 1149.2 812.5 1142.5 805.0 1157.5C797.5 1172.5 801.7 1166.7 792.5 1180.0C783.3 1193.3 782.5 1191.7 777.5 1197.5Q768 1206 766 1213Q763 1224 770 1229Q778 1235 787.5 1230Q796 1224 800 1215L800 1205C802.5 1200.0 800.8 1203.3 807.5 1190.0C814.2 1176.7 812.5 1181.7 820.0 1165.0C827.5 1148.3 824.7 1155.8 830.0 1140.0C835.3 1124.2 835.7 1130.8 836.0 1117.5C836.3 1104.2 835.1 1114.2 831.0 1100.0C826.9 1085.8 827.0 1091.7 823.7 1075.0C820.4 1058.3 821.0 1069.0 821.0 1050.0C821.0 1031.0 822.8 1028.7 823.7 1018.0Z"/>
 <path fill="#e3ebf0" d="M812.0 1024.0C811.7 1032.7 810.5 1031.7 811.0 1050.0C811.5 1068.3 810.7 1062.0 813.5 1079.0C816.3 1096.0 816.0 1089.0 819.5 1101.0C823.0 1113.0 824.2 1103.3 824.0 1115.0C823.8 1126.7 824.0 1121.3 819.0 1136.0C814.0 1150.7 816.3 1144.0 809.0 1159.0C801.7 1174.0 804.7 1168.7 797.0 1181.0C789.3 1193.3 789.7 1191.0 786.0 1196.0L790 1198C793.7 1193.0 793.3 1195.3 801.0 1183.0C808.7 1170.7 805.7 1176.0 813.0 1161.0C820.3 1146.0 818.0 1153.0 823.0 1138.0C828.0 1123.0 827.8 1128.7 828.0 1116.0C828.2 1103.3 827.0 1112.7 823.5 1100.0C820.0 1087.3 820.2 1094.7 817.5 1078.0C814.8 1061.3 815.8 1068.0 815.5 1050.0C815.2 1032.0 816.2 1032.7 816.5 1024.0Z"/>
 <path class="t" fill="none" stroke="#3f596b" d="M818.5 1024.0C818.2 1032.7 817.0 1032.3 817.5 1050.0C818.0 1067.7 817.0 1060.7 820.0 1077.0C823.0 1093.3 822.8 1086.0 826.5 1099.0C830.2 1112.0 831.2 1103.0 831.0 1116.0C830.8 1129.0 831.0 1122.3 826.0 1138.0C821.0 1153.7 823.3 1146.7 816.0 1163.0C808.7 1179.3 810.3 1173.3 804.0 1187.0C797.7 1200.7 799.3 1198.3 797.0 1204.0M811.0 1024.0C810.7 1032.7 809.5 1031.7 810.0 1050.0C810.5 1068.3 809.7 1062.0 812.5 1079.0C815.3 1096.0 816.5 1093.7 818.5 1101.0"/>
 <!-- lower eye -->
 <path class="o" fill="#8ea6b6" d="M777.500 1197.500L766 1212.500L766 1225L777.500 1232.500L787.500 1230L800 1215L795 1208Q788 1210 784 1204Z"/>
 <path fill="#c4d2dc" d="M768 1213L778 1200L783 1205L771 1219Z"/>
 <ellipse class="o" cx="786" cy="1221" rx="6.500" ry="7.500" fill="#1f2f3a" transform="rotate(35 786 1221)"/>
 <ellipse cx="787.500" cy="1221.500" rx="2.600" ry="3.200" fill="#f4f7f9" transform="rotate(35 787.500 1221.500)"/>
 <!-- ball joint boot -->
 <path class="o" stroke-width="1.400" fill="#c4d2dc" d="M803.500 1004Q803 998 810 995.500Q813 990 819 990Q825 990 827 995.500Q832 998 831.500 1004Q833 1011 827 1014.500Q821 1019 815 1018.500Q806 1017 804.500 1011Q803 1008 803.500 1004Z"/>
 <path class="t" fill="none" d="M804.500 1003Q817 1009 831 1002.500M805 1009Q817 1015 830.500 1009"/>
 <path fill="#edf2f5" d="M808 999Q812 994 818 994Q814 997 812 1001Z"/>
 <ellipse class="t" cx="819" cy="995.500" rx="5.500" ry="2.600" fill="#9fb4c2"/>
</g>
<g id="bolt6">
 <path d="M809 1243L829.500 1258" stroke="#0f1a22" stroke-width="8.400" stroke-linecap="round" fill="none"/>
 <path d="M809 1243L829.500 1258" stroke="#c9d6df" stroke-width="5.400" stroke-linecap="round" fill="none"/>
 <path class="t" fill="none" stroke-width="1.100" d="M809.500 1246.500L813.500 1241.500M812.300 1248.500L816.300 1243.500M815.100 1250.500L819.100 1245.500M817.900 1252.500L821.900 1247.500M820.700 1254.500L824.700 1249.500M823.500 1256.500L827.500 1251.500M826.300 1258.500L830.300 1253.500"/>
 <path class="o" stroke-width="1.800" fill="#7d9db2" d="M826.500 1259L829.500 1254.500L835 1252.500L841 1255.500L844 1261.500L842.500 1268L837.500 1271.500L831 1270L827 1265.500Z"/>
 <path fill="#a9c3d2" stroke="#14222c" stroke-width="0.900" d="M831 1258.500L836 1257L840 1260.500L839.500 1265.500L835 1267.500L831 1264.500Z"/>
 <path fill="#dbe6ed" d="M833 1259.500L836.500 1258.500L838 1261L834 1262.500Z"/>
</g>
<g id="nut8">
 <path class="o" fill="#5f7b8e" d="M825.500 541L827.500 536L832 534L837.500 535.500L839 541L838.500 546L833 548.500L827 547Z"/>
 <ellipse class="t" cx="832.500" cy="538.500" rx="5.200" ry="3.200" fill="#a9bcc9"/>
 <path class="t" fill="none" d="M828 542V546.500M833 543.500V548M837 541.500V546"/>
</g>
<g id="nut5">
 <ellipse cx="700.500" cy="599.500" rx="5.600" ry="8" fill="#6f9ab2" stroke="#0f1a22" stroke-width="1.900" transform="rotate(-28 700.500 599.500)"/>
 <path fill="#a9c7d6" d="M697.500 594L701 592.500L699 599L696.500 600Z"/>
 <ellipse cx="705.500" cy="602" rx="5.800" ry="8.300" fill="#7fa9c0" stroke="#0f1a22" stroke-width="1.900" transform="rotate(-28 705.500 602)"/>
 <ellipse cx="706" cy="602.500" rx="2.600" ry="4" fill="#1c2d39" transform="rotate(-28 706 602.500)"/>
 <path d="M705 602L710 605.500" stroke="#6a8ea6" stroke-width="1.300"/>
</g>

<!-- car -->
<defs>
<linearGradient id="gws" x1="0" y1="0" x2="1" y2="0.250"><stop offset="0" stop-color="#8fabbe"/><stop offset="0.450" stop-color="#a9c0cf"/><stop offset="1" stop-color="#c9d8e1"/></linearGradient>
<linearGradient id="grw" x1="0" y1="0" x2="1" y2="0.400"><stop offset="0" stop-color="#98b2c3"/><stop offset="0.500" stop-color="#aec4d1"/><stop offset="1" stop-color="#cfdce4"/></linearGradient>
<linearGradient id="gsw" x1="0" y1="1" x2="1" y2="0"><stop offset="0" stop-color="#c4d4de"/><stop offset="1" stop-color="#a6bdcb"/></linearGradient>
<pattern id="mesh" width="3" height="3" patternUnits="userSpaceOnUse"><rect width="3" height="3" fill="#3a5163"/><path d="M0 0L3 3M3 0L0 3" stroke="#c9d6df" stroke-width="0.600"/></pattern>
</defs>
<g id="car" stroke="#2f4b5e" stroke-width="0.900" stroke-linejoin="round" stroke-linecap="round">
 <!-- body silhouette -->
 <path fill="#e1e9ee" d="M97.0 1210.0C97.4 1199.5 97.1 1199.7 100.0 1192.0C102.9 1184.3 102.8 1187.1 107.7 1181.0C112.6 1174.9 110.6 1177.0 118.3 1169.0C126.0 1161.0 124.3 1161.4 136.4 1151.0C148.5 1140.6 146.6 1142.4 163.6 1130.0C180.6 1117.6 182.3 1116.5 200.0 1104.5C217.7 1092.5 215.5 1095.4 230.0 1085.0C244.5 1074.6 240.5 1075.5 254.3 1065.4C268.1 1055.3 265.5 1058.6 281.6 1047.0C297.7 1035.4 296.6 1032.8 314.8 1022.0C333.0 1011.2 332.6 1015.5 350.0 1006.5C367.4 997.5 362.3 996.9 380.0 988.4C397.7 979.9 397.9 982.1 416.5 974.8C435.1 967.5 433.7 966.3 449.8 961.0C465.9 955.7 463.3 957.0 477.0 955.0C490.7 953.0 486.5 952.0 501.0 953.6C515.5 955.2 515.2 955.8 531.4 961.0C547.6 966.2 545.5 964.1 561.7 973.0C577.9 981.9 578.3 982.2 592.0 994.4C605.7 1006.6 605.0 1006.5 613.0 1018.6C621.0 1030.7 617.2 1028.5 622.0 1039.8C626.8 1051.1 628.1 1049.7 631.0 1061.0C633.9 1072.3 632.7 1072.9 632.7 1082.0C632.7 1091.1 637.1 1086.7 631.0 1095.0C624.9 1103.3 618.0 1106.5 610.0 1113.0C602.0 1119.5 604.2 1116.1 601.0 1119.3C597.8 1122.5 600.9 1114.7 598.0 1125.0C595.1 1135.3 593.2 1147.4 590.0 1158.0C586.8 1168.6 591.2 1159.4 585.9 1164.7C580.6 1170.0 578.1 1173.2 570.0 1178.0C561.9 1182.8 563.6 1182.3 555.6 1182.8C547.6 1183.3 546.5 1183.4 540.0 1180.0C533.5 1176.6 534.9 1170.0 531.4 1170.0C527.9 1170.0 548.4 1166.1 527.0 1180.0C505.6 1193.9 487.3 1202.0 451.0 1222.0C414.7 1242.0 418.3 1239.5 391.0 1255.0C363.7 1270.5 360.9 1270.7 348.6 1280.0C336.3 1289.3 348.4 1283.6 345.0 1290.0C341.6 1296.4 343.3 1295.5 336.0 1304.0C328.7 1312.5 328.3 1316.4 317.8 1322.0C307.3 1327.6 306.4 1326.6 296.7 1325.0C287.0 1323.4 288.1 1316.8 281.6 1316.0C275.1 1315.2 281.4 1320.0 272.5 1322.0C263.6 1324.0 264.4 1325.2 248.3 1323.6C232.2 1322.0 233.0 1322.0 212.0 1316.0C191.0 1310.0 191.5 1311.5 169.7 1301.0C147.9 1290.5 147.4 1290.5 130.4 1276.8C113.4 1263.1 114.5 1261.6 106.0 1249.5C97.5 1237.4 101.0 1241.9 98.6 1231.4C96.2 1220.9 96.6 1220.5 97.0 1210.0Z"/>

 <!-- shaded lower side -->
 <path fill="#d0dce4" stroke="none" d="M374 1182L400 1168L483 1122L520 1100L560 1085L600 1075L632 1070L632.700 1082L631 1095L610 1113L601 1119.300L596 1110Q580 1092 555 1102Q530 1118 527 1160L527 1180L451 1222L391 1255L348.600 1280Q352 1250 330 1238Q312 1234 300 1246L290 1262L281 1290L281.600 1316L272.500 1322L248.300 1323.600L262 1300L268 1262L300 1236L340 1212Z"/>
 <!-- left fender shade -->
 <path fill="#d3dee6" stroke="none" d="M100 1192L107.700 1181L118.300 1169L136.400 1151L163.600 1130L200 1104.500L230 1088L230 1101L213 1110L170 1140L140 1173L122 1206L116 1216L100 1212Z"/>
 <!-- hood white band -->
 <path fill="#fbfcfd" stroke="none" d="M123 1209.700L140 1190L163 1169.700L219.700 1136.500L246 1124L262 1152L230 1172L196.400 1199.700L172 1226L156 1226Z"/>
 <path fill="#f1f5f7" stroke="none" d="M196.400 1199.700L230 1172L262 1152L300 1168L345 1180L300 1205L262 1231L240 1250L200 1262L172 1240Z"/>
 <!-- roof white -->
 <path fill="#f9fbfc" stroke="none" d="M300 1046L340 1022L400 996L440 978L480 1000L520 1028L500 1040L456 1062L420 1086L396 1099L340 1070Z"/>
 <path fill="#edf2f5" stroke="none" d="M440 978L470 962L500 958L540 968L580 992L560 1008L531 1030L520 1028L480 1000Z"/>
 <!-- hood lines -->
 <path fill="none" d="M120 1213Q125 1192 139 1175Q152 1158 170 1143Q192 1125 213 1112L229.700 1101.500"/>
 <path fill="none" d="M113 1206Q118 1186 131 1170Q147 1152 166 1137Q192 1118 226 1096"/>
 <path fill="none" d="M196.400 1196.400L261.300 1154.800M261.300 1231.300L300 1210L372.700 1179.700M276.300 1236L320 1214L372.700 1189.700"/>
 <!-- windshield -->
 <path fill="#e6edf1" d="M226 1094L240 1074L270 1049Q282 1042 296 1047L398 1099Q403 1104 399 1112L368 1174Q362 1182 350 1178L296 1156L250 1130Q230 1114 226 1094Z"/>
 <path fill="url(#gws)" d="M230.500 1096L243 1078L272 1054.500Q282 1049 292 1053L390 1102.500Q394 1106 391 1112L362 1168Q358 1173.500 350 1171L297 1150L254.300 1126Q234 1110 230.500 1096Z"/>
 <!-- wiper cowl marks -->
 <path fill="#b4c6d2" stroke="none" d="M303 1181L309 1178L317 1183L314 1190L306 1191Z"/>
 <!-- roof lines -->
 <path fill="none" d="M396.500 1099.700L420 1086L456 1062L500 1040L531 1030M398 1099L373 1173" stroke-width="0.700"/>
 <path fill="none" d="M350 1006.500Q400 985 437 972L449.800 961M437 972L520 1029L561.700 1020L600 1010M476 965L501 962L540 972L580 996L596 1012M490 958L530 966L566 984L600 1010L612 1030"/>
 <!-- rear window -->
 <path fill="url(#grw)" d="M437.700 977.800L449.800 970Q462 966 477 968.700L519.300 988.400L555.600 1009.500Q563 1014 561.700 1020L531.400 1029Q524 1030 519.300 1026L480 1000.500Z"/>
 <!-- side windows -->
 <path fill="#e6edf1" d="M388 1160L398 1126L420 1098L456 1071L496 1054L530 1049Q536 1050 534 1056L522 1081L494 1106L428 1149L400 1167Z"/>
 <path fill="url(#gsw)" d="M401.400 1139L410 1122L424 1104L456.400 1078L479 1066.500V1108L425.600 1143L404 1152Z"/>
 <path fill="url(#gsw)" d="M482.500 1065L496.300 1059L528 1053.500Q531 1054 530 1057L519.600 1079L493 1101L482.500 1107Z"/>
 <!-- left mirror -->
 <path fill="#dfe7ec" d="M233.200 1074.400L233.200 1059.300Q235 1052 240.700 1048.700Q246 1046 249.800 1047.200Q254 1050 252.800 1056.300L248.300 1065.400Z"/>
 <path fill="#c4d2dc" stroke-width="0.600" d="M236 1070L236 1060Q238 1054 243 1051L247 1054L244 1064Z"/>
 <!-- right mirror -->
 <path fill="#e6edf1" d="M392.300 1161.600Q394 1153 400 1150.500Q408 1147 416 1149.500Q426 1153 430 1160Q428 1164 419.500 1166L400 1171.500L398 1175L392.500 1174Z"/>
 <path fill="#ffffff" stroke="none" d="M400 1153Q406 1150 412 1152Q408 1156 402 1158Z"/>
 <!-- door lines -->
 <path fill="none" d="M374.400 1179.700Q378 1210 379.400 1253M483 1110Q494 1130 492 1142Q490 1160 486 1170.700L480 1188M513.300 1098Q510 1112 507.200 1125Q504 1140 498.200 1149.500M425.600 1147L483 1113.500"/>
 <path fill="#d3dee6" d="M468 1146Q467 1142 472 1140L486 1135Q491 1134 490 1138Q488 1142 480 1145L471 1148Q468 1148 468 1146Z"/>
 <!-- sill lines -->
 <path fill="none" d="M380 1231L451 1197L525.400 1158M384 1240L451 1206L527 1166M388 1250L451 1214L527 1173M360 1268Q362 1258 372 1256L392 1246"/>
 <path fill="#c4d2dc" stroke-width="0.700" d="M359 1268Q361 1260 372 1257L376 1262L362 1270Z"/>
 <!-- rear bumper lines -->
 <path fill="none" d="M601 1119L624 1100L631 1090M604 1112L622 1094L628 1074L618 1050M590 1030L606 1022L612 1030"/>
 <!-- wheels -->
 <g id="rw">
  <path fill="#c4d2dc" d="M531.400 1170Q524 1150 530 1128Q540 1100 562 1096Q586 1094 597 1114Q602 1130 594 1152Q584 1178 560 1183Q540 1184 531.400 1170Z"/>
  <path fill="#b4c6d2" d="M536 1166Q530 1148 536 1129Q546 1104 566 1102Q586 1102 592 1120Q596 1134 589 1152Q580 1174 560 1177Q543 1178 536 1166Z"/>
  <ellipse cx="566" cy="1140" rx="22" ry="31" transform="rotate(22 566 1140)" fill="#9db6c6"/>
  <g stroke="#e4ecf1" stroke-width="2.600" fill="none"><path d="M566.0 1140.0L582.4 1153.0M566.0 1140.0L570.7 1165.3M566.0 1140.0L557.2 1168.0M566.0 1140.0L547.0 1160.0M566.0 1140.0L544.1 1144.4M566.0 1140.0L549.6 1127.0M566.0 1140.0L561.3 1114.7M566.0 1140.0L574.8 1112.0M566.0 1140.0L585.0 1120.0M566.0 1140.0L587.9 1135.6"/></g>
  <ellipse cx="566" cy="1140" rx="22" ry="31" transform="rotate(22 566 1140)" fill="none"/>
  <circle cx="566" cy="1140" r="3.500" fill="#dfe8ed"/>
 </g>
 <g id="fw">
  <path fill="#c4d2dc" d="M281.600 1316Q276 1298 282 1274Q292 1244 316 1238Q338 1236 346 1254Q350 1270 345 1290Q336 1314 317.800 1322Q296 1330 281.600 1316Z"/>
  <path fill="#b4c6d2" d="M288 1312Q282 1296 288 1276Q298 1250 316 1246Q334 1244 340 1258Q344 1272 339 1290Q330 1310 314 1317Q298 1322 288 1312Z"/>
  <ellipse cx="315" cy="1281" rx="20" ry="31" transform="rotate(24 315 1281)" fill="#9db6c6"/>
  <g stroke="#e4ecf1" stroke-width="2.600" fill="none"><path d="M315.0 1281.0L329.2 1293.7M315.0 1281.0L317.6 1305.9M315.0 1281.0L305.0 1308.6M315.0 1281.0L296.2 1300.8M315.0 1281.0L294.6 1285.3M315.0 1281.0L300.8 1268.3M315.0 1281.0L312.4 1256.1M315.0 1281.0L325.0 1253.4M315.0 1281.0L333.8 1261.2M315.0 1281.0L335.4 1276.7"/></g>
  <ellipse cx="315" cy="1281" rx="20" ry="31" transform="rotate(24 315 1281)" fill="none"/>
  <circle cx="315" cy="1281" r="3.500" fill="#dfe8ed"/>
 </g>
 <!-- wheel arches -->
 <path fill="none" stroke-width="1" d="M527 1160Q530 1118 555 1102Q580 1092 598 1112M290 1262Q300 1240 318 1235Q340 1232 352 1252L356 1262"/>
 <!-- front fascia -->
 <path fill="#e9eff3" d="M116 1216L122 1206L196 1250L204 1262L206 1274L196 1292L262 1300L272 1288L282 1262L276 1246L262 1232"/>
 <path fill="url(#mesh)" d="M116.800 1217.800L121.300 1214.800L200 1263L201.400 1270.700L190.800 1290.400L184.800 1288.900L115.200 1245L113.700 1228.400Z"/>
 <path fill="none" stroke="#e9eff3" stroke-width="0.800" d="M151 1238L153 1268"/>
 <path fill="#eef3f6" d="M130 1259L176 1284L176 1292L130 1267Z"/>
 <path fill="url(#mesh)" d="M103 1249L108 1250L128 1270L176 1295L178 1300L168 1300L126 1276L106 1256Z"/>
 <path fill="url(#mesh)" d="M224 1298L254.300 1301L260.400 1313L248.300 1319L236 1312Z"/>
 <path fill="url(#mesh)" d="M180 1300L212 1310L236 1316L232 1320L206 1314L178 1304Z"/>
 <!-- headlights -->
 <ellipse cx="110.700" cy="1201.200" rx="5.600" ry="14.500" fill="#e9eff3" transform="rotate(8 110.700 1201.200)"/>
 <ellipse cx="110.700" cy="1201.200" rx="3.800" ry="11.500" fill="#f6f9fa" transform="rotate(8 110.700 1201.200)"/>
 <ellipse cx="228.600" cy="1272.600" rx="17" ry="13.800" fill="#dfe7ec" transform="rotate(-12 228.600 1272.200)"/>
 <ellipse cx="228.600" cy="1272.600" rx="14" ry="11" fill="#f8fafb" transform="rotate(-12 228.600 1272.200)"/>
 <ellipse cx="261" cy="1269.500" rx="12.200" ry="9.200" fill="#dfe7ec" transform="rotate(-12 260.400 1269.200)"/>
 <ellipse cx="261" cy="1269.500" rx="9.500" ry="7" fill="#f8fafb" transform="rotate(-12 260.400 1269.200)"/>
 <!-- badge -->
 <path fill="#c4d2dc" stroke-width="0.600" d="M154 1226L166 1229L170 1234L160 1233Z"/>
 <!-- bumper lines -->
 <path fill="none" d="M98.600 1231.400L112 1246M100 1238L104 1250M206 1274L262 1290M196 1292L190 1298"/>
 <!-- highlighted assembly -->
 <path fill="#557d98" stroke="#ffffff" stroke-width="2.600" d="M175.700 1210L178.700 1204L184.800 1201.800L193.900 1205.700L206 1210L218 1205.700L230 1204L228.600 1213L239 1222L254 1230L272.500 1239L284.600 1245L286 1228.400L292 1222L298 1225L298 1240.500L305.700 1249.500L307 1261.600L310 1279.800L307 1292L296.700 1298L290.600 1292L292 1282.800L287.600 1276.800L286 1267.700L278.500 1263L266.400 1258.600L266.400 1252.600L254 1251L236 1251L222.600 1245L227 1234.400L218 1225.400L209 1227L206 1221L198.400 1217.800L200 1211.700L189.300 1208.700L181.800 1207.200L178.700 1211.700Z"/>
 <path fill="#557d98" stroke="#3d6078" stroke-width="0.700" d="M175.700 1210L178.700 1204L184.800 1201.800L193.900 1205.700L206 1210L218 1205.700L230 1204L228.600 1213L239 1222L254 1230L272.500 1239L284.600 1245L286 1228.400L292 1222L298 1225L298 1240.500L305.700 1249.500L307 1261.600L310 1279.800L307 1292L296.700 1298L290.600 1292L292 1282.800L287.600 1276.800L286 1267.700L278.500 1263L266.400 1258.600L266.400 1252.600L254 1251L236 1251L222.600 1245L227 1234.400L218 1225.400L209 1227L206 1221L198.400 1217.800L200 1211.700L189.300 1208.700L181.800 1207.200L178.700 1211.700Z"/>
 <path fill="none" stroke="#557d98" stroke-width="1.200" stroke-dasharray="9 4" d="M176 1213L160 1228"/>
</g>

<!-- center lines over parts -->
<g class="cl">
<path d="M308 214V573"/>
<path d="M308 590V625"/>
<path d="M343 541V551" stroke-dasharray="none"/>
<path d="M343 571V590L308 611" stroke-dasharray="14 3 3 3"/>
<path d="M630.5 405V759"/>
<path d="M630.5 772V812"/>
<path d="M667 727V738" stroke-dasharray="none"/>
<path d="M667 759V775L631 795" stroke-dasharray="14 3 3 3"/>
<path d="M687.5 589L697 595.500M709 604L719 611L645 635.5L657.5 646" stroke-dasharray="22 3 3 3"/>
<path d="M668.5 655L730.5 701V1171L769 1205" stroke-dasharray="30 3 3 3"/>
<path d="M790 1224L807.5 1240" stroke-dasharray="none"/>
</g>

<!-- labels -->
<g class="lb" text-anchor="middle" stroke="#111" stroke-width="0.45">
<text transform="translate(171.5 275.5) scale(0.95 1)">1</text>
<text transform="translate(506 200.5) scale(0.95 1)">10</text>
<text transform="translate(273 339) scale(0.95 1)">2</text>
<text transform="translate(262 516) scale(0.95 1)">2</text>
<text transform="translate(594 524) scale(0.95 1)">2</text>
<text transform="translate(584 702.5) scale(0.95 1)">2</text>
<text transform="translate(262 581) scale(0.95 1)">3</text>
<text transform="translate(584.5 767) scale(0.95 1)">3</text>
<text transform="translate(259 655) scale(0.95 1)">4</text>
<text transform="translate(582.5 840.5) scale(0.95 1)">4</text>
<text transform="translate(707 540.5) scale(0.95 1)">5</text>
<text transform="translate(881 1263) scale(0.95 1)">6</text>
<text transform="translate(882.5 1124) scale(0.95 1)">7</text>
<text transform="translate(782 543) scale(0.95 1)">8</text>
<text transform="translate(900.5 767) scale(0.95 1)">9</text>
</g>
<g class="ld">
<path d="M171.5 281V310"/>
<path d="M507 203V236"/>
<path d="M280 331H299"/>
<path d="M269 509.5H300"/>
<path d="M269 575H294"/>
<path d="M269 648H300"/>
<path d="M600 517.5H621"/>
<path d="M591 695.5H622"/>
<path d="M591 761H617"/>
<path d="M591 832.5H622"/>
<path d="M706.5 548V588"/>
<path d="M792 535H827"/>
<path d="M860 760.5H891"/>
<path d="M839 1118H874"/>
<path d="M847.5 1256.5H872.5"/>
</g>

<!-- watermark overlay -->
<g id="wm">
<text x="70.500" y="728" font-family="Liberation Sans, sans-serif" font-weight="bold" font-size="152" fill="#e63c3c" fill-opacity="0.128" textLength="590" lengthAdjust="spacingAndGlyphs">scuderia</text>
<g font-family="Liberation Sans, sans-serif" font-weight="bold" font-size="43" fill="#50505a" fill-opacity="0.085" text-anchor="middle">
<text x="86" y="785.500">c</text><text x="161" y="785.500">a</text><text x="232" y="785.500">r</text>
<text x="364" y="785.500">p</text><text x="440" y="785.500">a</text><text x="510.500" y="785.500">r</text><text x="575.600" y="785.500">t</text><text x="643.300" y="785.500">s</text>
</g>
<g id="flag" fill="#66668a" fill-opacity="0.170">
<path d="M707.0 608.0L737.0 617.0L747.0 644.0L712.0 634.0Z"/>
<path d="M767.0 626.0L796.0 635.0L806.0 661.0L777.0 652.0Z"/>
<path d="M822.0 645.0L851.0 654.0L861.0 679.0L834.0 671.0Z"/>
<path d="M679.5 625.0L712.0 634.0L719.0 662.0L676.0 651.0Z"/>
<path d="M747.0 644.0L777.0 652.0L787.0 680.0L755.0 672.0Z"/>
<path d="M806.0 661.0L834.0 671.0L845.0 695.0L817.0 688.0Z"/>
<path d="M861.0 679.0L885.0 686.0L891.0 705.0L867.0 700.0Z"/>
<path d="M719.0 662.0L755.0 672.0L764.0 703.0L728.0 697.0Z"/>
<path d="M787.0 680.0L817.0 688.0L828.0 718.0L797.0 711.0Z"/>
<path d="M845.0 695.0L867.0 700.0L882.0 726.0L855.0 721.0Z"/>
<path d="M683.0 687.0L728.0 697.0L734.0 731.0L689.0 725.0Z"/>
<path d="M764.0 703.0L797.0 711.0L806.0 742.0L769.0 739.0Z"/>
<path d="M828.0 718.0L855.0 721.0L869.0 748.0L843.5 744.6Z"/>
<path d="M882.0 726.0L906.0 734.0L918.0 760.0L892.0 751.0Z"/>
<path d="M734.0 731.0L769.0 739.0L786.0 777.5L745.0 774.0Z"/>
<path d="M806.0 742.0L843.5 744.6L855.0 781.0L822.0 779.0Z"/>
<path d="M869.0 748.0L892.0 751.0L909.0 786.6L881.5 782.6Z"/>
</g>
</g>

</svg>
</body></html>
